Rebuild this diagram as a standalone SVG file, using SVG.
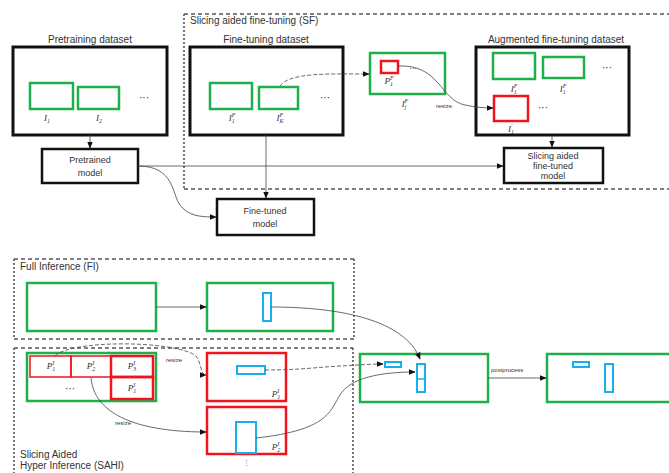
<svg xmlns="http://www.w3.org/2000/svg" width="669" height="473" viewBox="0 0 669 473">
<defs>
<style>
.t{font-family:"Liberation Sans",Arial,sans-serif;font-size:10px;fill:#333}
.ts{font-family:"Liberation Sans",Arial,sans-serif;font-size:9px;fill:#333;text-anchor:middle}
.tiny{font-family:"Liberation Sans",Arial,sans-serif;font-size:6px;fill:#333}
.m{font-family:"Liberation Serif","Times New Roman",serif;font-style:italic;font-size:9px;fill:#333;text-anchor:middle}
.dot{font-family:"Liberation Sans",Arial,sans-serif;font-size:10px;fill:#222;text-anchor:middle}
.blk{fill:#fff;stroke:#111;stroke-width:3}
.blk2{fill:#fff;stroke:#111;stroke-width:2.5}
.g{fill:#fff;stroke:#1fb04c;stroke-width:2.5}
.r{fill:#fff;stroke:#f0141e;stroke-width:2.5}
.rc{fill:none;stroke:#f0141e;stroke-width:1.5}
.b{fill:#fff;stroke:#16b0ee;stroke-width:2}
.dh{fill:none;stroke:#555;stroke-width:1.3;stroke-dasharray:4 3}
.dv{fill:none;stroke:#555;stroke-width:1.6;stroke-dasharray:2 2}
.c{fill:none;stroke:#444;stroke-width:0.8}
.cd{fill:none;stroke:#444;stroke-width:0.8;stroke-dasharray:4 2}
</style>
<marker id="ah" viewBox="0 0 10 10" refX="9" refY="5" markerWidth="7" markerHeight="7" orient="auto" markerUnits="userSpaceOnUse">
<path d="M0,1 L10,5 L0,9 z" fill="#111"/>
</marker>
</defs>
<rect width="669" height="473" fill="#fff"/>

<!-- containers -->
<g id="sf">
<path class="dh" d="M184,14 H684 M184,189 H684"/>
<path class="dv" d="M184,14 V189"/>
<text class="t" x="190" y="24">Slicing aided fine-tuning (SF)</text>
</g>
<g id="fi">
<path class="dh" d="M14,259 H354 M14,339 H354"/>
<path class="dv" d="M14,259 V339 M354,259 V339"/>
<text class="t" x="20" y="270">Full Inference (FI)</text>
</g>
<g id="sahi">
<path class="dh" d="M14,348 H353"/>
<path class="dv" d="M14,348 V473 M353,348 V473"/>
<text class="t" x="20" y="458">Slicing Aided</text>
<text class="t" x="20" y="469">Hyper Inference (SAHI)</text>
</g>

<!-- top nodes -->
<g id="pretraining">
<text class="ts" x="90" y="43" style="font-size:10px">Pretraining dataset</text>
<rect class="blk" x="13" y="47" width="154" height="88"/>
<rect class="g" x="30" y="83" width="43" height="26"/>
<rect class="g" x="78" y="87" width="41" height="22"/>
<text class="dot" x="144" y="101">···</text>
<text class="m" x="47" y="121">I<tspan font-size="6" dy="2">1</tspan></text>
<text class="m" x="99" y="121">I<tspan font-size="6" dy="2">2</tspan></text>
</g>
<g id="pretrained">
<rect class="blk2" x="42" y="149" width="96" height="34"/>
<text class="ts" x="90" y="163">Pretrained</text>
<text class="ts" x="90" y="176">model</text>
</g>
<g id="finetuning">
<text class="ts" x="266" y="43" style="font-size:10px">Fine-tuning dataset</text>
<rect class="blk" x="190" y="47" width="153" height="88"/>
<rect class="g" x="210" y="83" width="42" height="26"/>
<rect class="g" x="259" y="87" width="39" height="22"/>
<text class="dot" x="325" y="101">···</text>
<text class="m" x="232" y="121">I<tspan font-size="6" dy="2">1</tspan><tspan font-size="6" dx="-3" dy="-6">F</tspan></text>
<text class="m" x="280" y="121">I<tspan font-size="6" dy="2">K</tspan><tspan font-size="6" dx="-4" dy="-6">F</tspan></text>
</g>
<g id="slice">
<rect class="g" x="370" y="53" width="75" height="41"/>
<rect class="r" x="381" y="61" width="17" height="12"/>
<text class="dot" x="413" y="71" style="font-size:8px">···</text>
<text class="m" x="389" y="84">P<tspan font-size="6" dy="2">1</tspan><tspan font-size="6" dx="-3" dy="-6">F</tspan></text>
<text class="m" x="405" y="107">I<tspan font-size="6" dy="2">j</tspan><tspan font-size="6" dx="-2" dy="-6">F</tspan></text>
</g>
<g id="augmented">
<text class="ts" x="556" y="43" style="font-size:10px">Augmented fine-tuning dataset</text>
<rect class="blk" x="476" y="47" width="153" height="88"/>
<rect class="g" x="493" y="53" width="42" height="26"/>
<rect class="g" x="543" y="57" width="41" height="21"/>
<text class="dot" x="607" y="71">···</text>
<rect class="r" x="494" y="96" width="34" height="25"/>
<text class="dot" x="543" y="111">···</text>
<text class="m" x="514" y="92">I<tspan font-size="6" dy="2">1</tspan><tspan font-size="6" dx="-3" dy="-6">F</tspan></text>
<text class="m" x="563" y="92">I<tspan font-size="6" dy="2">1</tspan><tspan font-size="6" dx="-3" dy="-6">F</tspan></text>
<text class="m" x="511" y="132">I<tspan font-size="6" dy="2">1</tspan><tspan font-size="6" dx="-3" dy="-6">′</tspan></text>
</g>
<g id="safmodel">
<rect class="blk2" x="504" y="148" width="99" height="35"/>
<text class="ts" x="553" y="159">Slicing aided</text>
<text class="ts" x="553" y="169">fine-tuned</text>
<text class="ts" x="553" y="179">model</text>
</g>
<g id="finetuned">
<rect class="blk2" x="217" y="199" width="97" height="36"/>
<text class="ts" x="265" y="214">Fine-tuned</text>
<text class="ts" x="265" y="227">model</text>
</g>

<!-- bottom nodes -->
<g id="fi-in">
<rect class="g" x="27" y="283" width="129" height="48"/>
</g>
<g id="fi-out">
<rect class="g" x="207" y="283" width="126" height="48"/>
<rect class="b" x="263" y="293" width="8" height="28"/>
</g>
<g id="sahi-in">
<rect class="g" x="27" y="353" width="129" height="48"/>
<rect class="rc" x="30" y="356" width="41" height="21"/>
<rect class="rc" x="71" y="356" width="40" height="21"/>
<rect class="r" x="111" y="356" width="42" height="21" style="fill:none"/>
<rect class="r" x="111" y="377" width="42" height="22" style="fill:none"/>
<text class="dot" x="70" y="392">···</text>
<text class="m" x="51" y="369">P<tspan font-size="6" dy="2">1</tspan><tspan font-size="6" dx="-3" dy="-6">I</tspan></text>
<text class="m" x="91" y="369">P<tspan font-size="6" dy="2">2</tspan><tspan font-size="6" dx="-3" dy="-6">I</tspan></text>
<text class="m" x="132" y="369">P<tspan font-size="6" dy="2">3</tspan><tspan font-size="6" dx="-3" dy="-6">I</tspan></text>
<text class="m" x="132" y="391">P<tspan font-size="6" dy="2">1</tspan><tspan font-size="6" dx="-3" dy="-6">I</tspan></text>
</g>
<g id="slice1">
<rect class="r" x="207" y="353" width="79" height="48"/>
<rect class="b" x="237" y="366" width="28" height="8"/>
<text class="m" x="276" y="397">P<tspan font-size="6" dy="2">1</tspan><tspan font-size="6" dx="-3" dy="-6">I</tspan></text>
</g>
<g id="slice2">
<rect class="r" x="207" y="407" width="79" height="47"/>
<rect class="b" x="236" y="422" width="20" height="31"/>
<text class="m" x="276" y="450">P<tspan font-size="6" dy="2">2</tspan><tspan font-size="6" dx="-3" dy="-6">I</tspan></text>
<text class="dot" x="247" y="466" style="font-size:7px" transform="rotate(90 247 463)">···</text>
</g>
<g id="merged">
<rect class="g" x="360" y="354" width="128" height="48"/>
<rect class="b" x="385" y="362" width="16" height="5"/>
<rect class="b" x="417" y="364" width="8" height="28"/>
<line x1="417" y1="379" x2="425" y2="379" stroke="#16b0ee" stroke-width="1.5"/>
</g>
<g id="final">
<rect class="g" x="547" y="354" width="140" height="48"/>
<rect class="b" x="573" y="362" width="16" height="5"/>
<rect class="b" x="605" y="364" width="8" height="28"/>
</g>

<!-- connectors -->
<g id="connectors">
<path class="c" d="M90,135 V148" marker-end="url(#ah)"/>
<path class="c" d="M138,166 H503" marker-end="url(#ah)"/>
<path class="c" d="M138,166 C175,166 172,195 180,205 C188,216 200,217 216,217" marker-end="url(#ah)"/>
<path class="c" d="M266,135 V198" marker-end="url(#ah)"/>
<path class="cd" d="M280,86 C290,72 330,74 369,74" marker-end="url(#ah)"/>
<path class="c" d="M398,66 C440,64 440,100 465,105 C475,107 483,108 493,108" marker-end="url(#ah)"/>
<text class="tiny" x="436" y="108">resize</text>
<path class="c" d="M552,135 V147" marker-end="url(#ah)"/>

<path class="c" d="M156,307 H206" marker-end="url(#ah)"/>
<path class="c" d="M271,307 C340,307 405,320 420,359" marker-end="url(#ah)"/>
<path class="cd" d="M55,356 C70,340 170,340 195,355 C202,362 200,375 206,375" marker-end="url(#ah)"/>
<text class="tiny" x="166" y="362">resize</text>
<path class="c" d="M91,378 C95,420 150,432 206,432" marker-end="url(#ah)"/>
<text class="tiny" x="115" y="425">resize</text>
<path class="cd" d="M265,370 C300,370 320,367 340,366 C360,365 370,364 383,364" marker-end="url(#ah)"/>
<path class="c" d="M256,438 C330,430 330,410 340,395 C350,378 380,372 415,372" marker-end="url(#ah)"/>
<path class="c" d="M488,378 H546" marker-end="url(#ah)"/>
<text class="tiny" x="491" y="372">postprocess</text>
</g>
</svg>
